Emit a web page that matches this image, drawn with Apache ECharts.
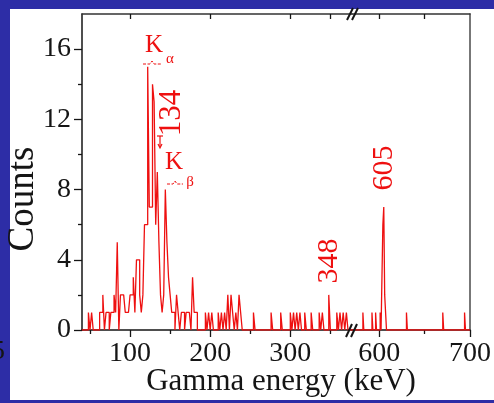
<!DOCTYPE html>
<html>
<head>
<meta charset="utf-8">
<script src="https://cdn.jsdelivr.net/npm/echarts@6/dist/echarts.min.js"></script>
<style>
  html, body { margin: 0; padding: 0; background: #2d2da6; }
  #chart { width: 494px; height: 403px; }
</style>
</head>
<body>
<div id="chart"></div>
<script>
// Gamma-ray spectrum drawn as a step histogram.
// Only the non-empty bins are listed (bin start energy in keV); every other bin is 0.

// Low-energy part of the broken axis, 2 keV bins
const LOW_BIN = 2;
const lowEnergies = [48, 52, 62, 64, 66, 70, 72, 76, 78, 80, 82, 84, 88, 90, 92, 94, 96, 98,
  100, 102, 104, 106, 108, 110, 112, 114, 116, 118, 120, 122, 124, 126, 128, 130, 132, 134,
  136, 138, 140, 142, 144, 146, 148, 150, 152, 154, 158, 160, 164, 166, 170, 172, 174, 178,
  180, 182, 194, 198, 202, 210, 214, 218, 222, 226, 228, 232, 236, 238, 254, 276, 288,
  300, 304, 308, 312, 318, 326, 336, 340, 348, 358, 362, 366, 370];
const lowCounts = [1, 1, 1, 1, 2, 1, 1, 1, 1, 2, 1, 5, 2, 2, 2, 1, 1, 1,
  2, 2, 3, 1, 4, 4, 2, 1, 2, 6, 6, 15, 7, 7, 14, 13, 6, 9,
  5, 2, 1, 2, 8, 5, 3, 2, 1, 1, 2, 1, 1, 1, 1, 1, 1, 3,
  1, 1, 1, 1, 1, 1, 1, 1, 2, 2, 1, 1, 2, 1, 1, 1, 1,
  1, 1, 1, 1, 1, 1, 1, 1, 2, 1, 1, 1, 1];

// High-energy part of the broken axis, 1 keV bins
const HIGH_BIN = 1;
const highEnergies = [582, 592, 596, 601, 604, 605, 606, 607, 630, 670, 694];
const highCounts = [1, 1, 1, 1, 6, 7, 2, 2, 1, 1, 1];

// Axis ranges and tick values
const lowRange = [40, 377];
const highRange = [570, 700];
const countRange = [0, 18];
const countTicks = [0, 4, 8, 12, 16];
const countMinorTicks = [2, 6, 10, 14];
const lowMajorTicks = [100, 200, 300];
const lowMinorTicks = [50, 150, 250, 350];
const lowTopTicks = [100, 200, 300, 350];
const highMajorTicks = [600, 700];
const highMinorTicks = [650];
const highTopTicks = [600, 650];

// Turn the bin list into the corner points of a step outline
function histogramPoints(energies, counts, binWidth, range) {
  const pts = [[range[0], 0]];
  for (let i = 0; i < energies.length; i++) {
    const e = energies[i];
    pts.push([e, counts[i]]);
    if (energies[i + 1] !== e + binWidth) pts.push([e + binWidth, 0]);
  }
  pts.push([range[1], 0]);
  return pts;
}

const SERIF = '"Liberation Serif", "Times New Roman", serif';
const RED = '#ee1010';
const INK = '#151515';

const chart = echarts.init(document.getElementById('chart'), null, { renderer: 'canvas' });

function xAxisDef(grid, range, pos, opts) {
  return Object.assign({
    type: 'value', gridIndex: grid, min: range[0], max: range[1], position: pos, offset: 0,
    axisLine: { show: false },
    axisTick: { show: false },
    axisLabel: { show: false },
    splitLine: { show: false },
    minorTick: { show: false }
  }, opts);
}
function yAxisDef(grid, pos, opts) {
  return Object.assign({
    type: 'value', gridIndex: grid, min: countRange[0], max: countRange[1], position: pos, offset: 0,
    axisLine: { show: false },
    axisTick: { show: false },
    axisLabel: { show: false },
    splitLine: { show: false }
  }, opts);
}

const lineDark = { show: true, onZero: false, lineStyle: { color: INK, width: 1.5 } };
const lineTop = { show: true, onZero: false, lineStyle: { color: '#333', width: 1.5 } };
const lineGrey = { show: true, onZero: false, lineStyle: { color: '#555', width: 1.6 } };
const tickStyle = { color: INK, width: 1.3 };

const option = {
  animation: false,
  backgroundColor: '#2d2da6',
  grid: [
    { left: 82, top: 14, width: 270, height: 316, outerBoundsMode: 'none' },
    { left: 352, top: 14, width: 118, height: 316, outerBoundsMode: 'none' }
  ],
  xAxis: [
    // low segment
    xAxisDef(0, lowRange, 'bottom', {
      axisLine: lineDark,
      axisTick: { show: true, customValues: lowMajorTicks, length: 7, lineStyle: tickStyle },
      axisLabel: { show: true, customValues: lowMajorTicks, margin: 10, color: INK,
        fontFamily: SERIF, fontSize: 28 }
    }),
    xAxisDef(0, lowRange, 'bottom', {
      axisTick: { show: true, customValues: lowMinorTicks, length: 4, lineStyle: tickStyle }
    }),
    xAxisDef(0, lowRange, 'top', {
      axisLine: lineTop,
      axisTick: { show: true, inside: true, customValues: lowTopTicks, length: 5, lineStyle: tickStyle }
    }),
    // high segment
    xAxisDef(1, highRange, 'bottom', {
      axisLine: lineDark,
      axisTick: { show: true, customValues: highMajorTicks, length: 7, lineStyle: tickStyle },
      axisLabel: { show: true, customValues: highMajorTicks, margin: 10, color: INK,
        fontFamily: SERIF, fontSize: 28 }
    }),
    xAxisDef(1, highRange, 'bottom', {
      axisTick: { show: true, customValues: highMinorTicks, length: 4, lineStyle: tickStyle }
    }),
    xAxisDef(1, highRange, 'top', {
      axisLine: lineTop,
      axisTick: { show: true, inside: true, customValues: highTopTicks, length: 5, lineStyle: tickStyle }
    })
  ],
  yAxis: [
    yAxisDef(0, 'left', {
      axisLine: lineDark,
      axisTick: { show: true, customValues: countTicks, length: 8, lineStyle: tickStyle },
      axisLabel: { show: true, customValues: countTicks, margin: 11, color: INK,
        fontFamily: SERIF, fontSize: 28 }
    }),
    yAxisDef(0, 'left', {
      axisTick: { show: true, customValues: countMinorTicks, length: 4, lineStyle: tickStyle }
    }),
    yAxisDef(1, 'right', { axisLine: lineGrey })
  ],
  series: [
    {
      type: 'line', xAxisIndex: 0, yAxisIndex: 0, step: 'end', symbol: 'none',
      lineStyle: { color: RED, width: 1.3 },
      data: histogramPoints(lowEnergies, lowCounts, LOW_BIN, lowRange)
    },
    {
      type: 'line', xAxisIndex: 3, yAxisIndex: 2, step: 'end', symbol: 'none',
      lineStyle: { color: RED, width: 1.3 },
      data: histogramPoints(highEnergies, highCounts, HIGH_BIN, highRange)
    }
  ],
  graphic: [
    // white panel on the blue backdrop
    { type: 'rect', z: -10, shape: { x: 10, y: 9, width: 484, height: 391 }, style: { fill: '#ffffff' } },
    { type: 'text', z: -5, x: -9, y: 352,
      style: { text: '5', font: '28px ' + SERIF, fill: INK, verticalAlign: 'middle' } },
    // axis titles
    { type: 'text', z: 10, x: 281, y: 382,
      style: { text: 'Gamma energy (keV)', font: '31px ' + SERIF, fill: INK, align: 'center', verticalAlign: 'middle' } },
    { type: 'text', z: 10, x: 23, y: 199, rotation: Math.PI / 2,
      style: { text: 'Counts', font: '37px ' + SERIF, fill: INK, align: 'center', verticalAlign: 'middle' } },
    // axis-break marks
    { type: 'polyline', z: 10, shape: { points: [[346, 337], [352, 324]] }, style: { stroke: INK, lineWidth: 2 } },
    { type: 'polyline', z: 10, shape: { points: [[351, 337], [357, 324]] }, style: { stroke: INK, lineWidth: 2 } },
    { type: 'polyline', z: 10, shape: { points: [[347, 20], [353, 8]] }, style: { stroke: INK, lineWidth: 2 } },
    { type: 'polyline', z: 10, shape: { points: [[352, 20], [358, 8]] }, style: { stroke: INK, lineWidth: 2 } },
    // peak annotations
    { type: 'text', z: 10, x: 154, y: 45,
      style: { text: 'K', font: '25px ' + SERIF, fill: RED, align: 'center', verticalAlign: 'middle' } },
    { type: 'text', z: 10, x: 170, y: 59,
      style: { text: 'α', font: '15px ' + SERIF, fill: RED, align: 'center', verticalAlign: 'middle' } },
    { type: 'polyline', z: 10, shape: { points: [[143, 64], [150, 64], [152, 61], [154, 64], [161, 64]] },
      style: { stroke: RED, lineWidth: 1, lineDash: [3, 1.5] } },
    { type: 'text', z: 10, x: 172, y: 113, rotation: Math.PI / 2,
      style: { text: '134', font: '31px ' + SERIF, fill: RED, align: 'center', verticalAlign: 'middle' } },
    { type: 'polyline', z: 10, shape: { points: [[157, 136], [163, 136]] }, style: { stroke: RED, lineWidth: 1.2 } },
    { type: 'polyline', z: 10, shape: { points: [[160, 136], [160, 147]] }, style: { stroke: RED, lineWidth: 1.2 } },
    { type: 'polyline', z: 10, shape: { points: [[158, 144], [160, 148], [162, 144]] }, style: { stroke: RED, lineWidth: 1.2 } },
    { type: 'text', z: 10, x: 174, y: 162,
      style: { text: 'K', font: '25px ' + SERIF, fill: RED, align: 'center', verticalAlign: 'middle' } },
    { type: 'text', z: 10, x: 190, y: 182,
      style: { text: 'β', font: '15px ' + SERIF, fill: RED, align: 'center', verticalAlign: 'middle' } },
    { type: 'polyline', z: 10, shape: { points: [[167, 184], [173, 184], [175, 181], [177, 184], [183, 184]] },
      style: { stroke: RED, lineWidth: 1, lineDash: [3, 1.5] } },
    { type: 'text', z: 10, x: 329, y: 261, rotation: Math.PI / 2,
      style: { text: '348', font: '30px ' + SERIF, fill: RED, align: 'center', verticalAlign: 'middle' } },
    { type: 'text', z: 10, x: 384, y: 168, rotation: Math.PI / 2,
      style: { text: '605', font: '30px ' + SERIF, fill: RED, align: 'center', verticalAlign: 'middle' } }
  ]
};

chart.setOption(option);
</script>
</body>
</html>
